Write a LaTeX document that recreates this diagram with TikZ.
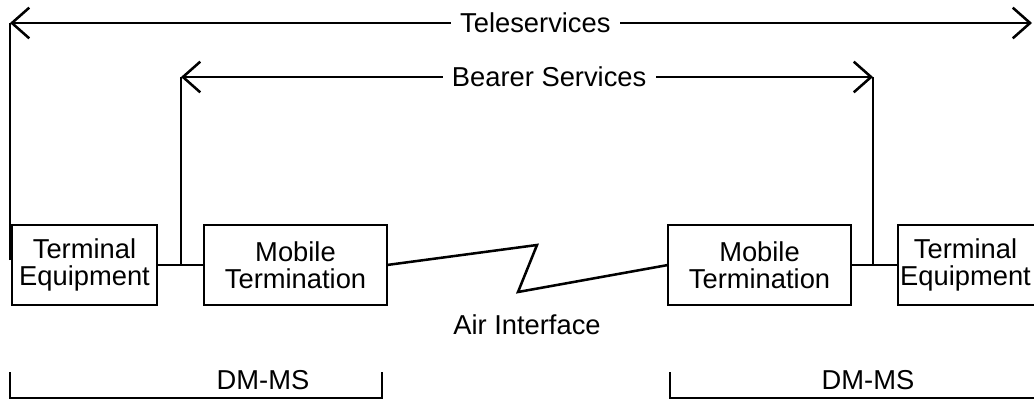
\documentclass[tikz,border=0pt]{standalone}
\usepackage{fontspec}
\setmainfont{Liberation Sans}
\usetikzlibrary{positioning, arrows.meta}

\begin{document}
\begin{tikzpicture}[
  x=0.75pt, y=-0.75pt,
  line width=1.9pt,
  unitbox/.style={rectangle, draw, inner sep=0pt, outer sep=0pt, minimum height=60pt, align=center, font=\fontsize{20.5}{20.5}\selectfont},
  servline/.style={{Straight Barb[length=13pt,width=23pt]}-{Straight Barb[length=13pt,width=23pt]}},
  servlabel/.style={fill=white, inner xsep=7pt, font=\fontsize{20.5}{20.5}\selectfont},
  plainlabel/.style={font=\fontsize{20.5}{20.5}\selectfont},
  node distance=35.25pt,
]
\useasboundingbox (0,0) rectangle (1034,403);

%%% Nodes
\node[unitbox, minimum width=108.75pt] (te1) at (84.5,265) {Terminal\\Equipment};
\node[unitbox, minimum width=137.25pt] (mt1) [right=of te1] {Mobile\\Termination};
\node[unitbox, minimum width=137.25pt] (mt2) [right=210.75pt of mt1] {Mobile\\Termination};
\node[unitbox, minimum width=101.25pt, draw=none] (te2) [right=of mt2] {Terminal\\Equipment};
% right box runs on past the edge
\draw ([xshift=12pt]te2.north east) -- (te2.north west) -- (te2.south west) -- ([xshift=12pt]te2.south east);

%%% Service spans
\coordinate (tsL) at (10,23);
\coordinate (tsR) at (1032,23);
\coordinate (tsLb) at (10,260);
\coordinate (j1) at (181,265);
\coordinate (j2) at (873,265);
\coordinate (bsL) at (181,77);
\coordinate (bsR) at (873,77);

\draw (tsLb) -- (tsL);
\draw[servline] (tsL) -- node[servlabel, pos=0.514] (tele) {Teleservices} (tsR);
\draw (j1) -- (bsL);
\draw (j2) -- (bsR);
\draw[servline] (bsL) -- node[servlabel, pos=0.532] (bearer) {Bearer Services} (bsR);

%%% Links
\draw (te1) -- (mt1);
\draw (mt2) -- (te2);
\coordinate (z1) at (537,245);
\coordinate (z2) at (518,292);
\draw (mt1.east) -- (z1) -- (z2) -- (mt2.west);
\node[plainlabel] (air) at (527,325) {Air Interface};

%%% DM-MS brackets
\draw (10,372) -- (10,398) -- (382,398) -- (382,372);
\node[plainlabel] (dm1) at (263,380) {DM-MS};
\draw (670,372) -- (670,398) -- (1040,398);
\node[plainlabel] (dm2) at (868,380) {DM-MS};

\end{tikzpicture}
\end{document}
